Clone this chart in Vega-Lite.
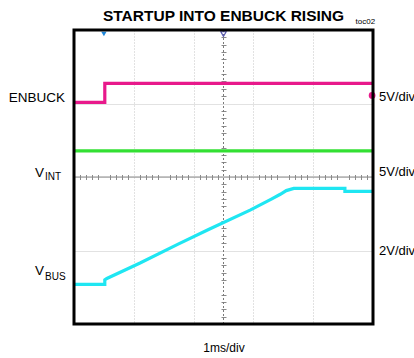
{
  "$schema": "https://vega.github.io/schema/vega-lite/v6.json",
  "width": 299,
  "height": 294,
  "autosize": {"type": "none"},
  "padding": {"left": 74, "top": 30, "right": 41, "bottom": 34},
  "background": "white",
  "config": {
    "view": {"stroke": null},
    "font": "Liberation Sans",
    "text": {"font": "Liberation Sans", "color": "black"}
  },
  "title": {
    "text": "STARTUP INTO ENBUCK RISING",
    "font": "Liberation Sans",
    "fontSize": 15.5,
    "fontWeight": "bold",
    "color": "black",
    "anchor": "middle",
    "offset": 6,
    "dy": 13
  },
  "datasets": {
    "traces": [
      {"trace": "ENBUCK", "i": 0, "t": 0, "v": 6.03},
      {"trace": "ENBUCK", "i": 1, "t": 1.03, "v": 6.03},
      {"trace": "ENBUCK", "i": 2, "t": 1.03, "v": 6.55},
      {"trace": "ENBUCK", "i": 3, "t": 10, "v": 6.55},
      {"trace": "VINT", "i": 0, "t": 0, "v": 4.71},
      {"trace": "VINT", "i": 1, "t": 10, "v": 4.71},
      {"trace": "VBUS", "i": 0, "t": 0, "v": 1.08},
      {"trace": "VBUS", "i": 1, "t": 1.03, "v": 1.08},
      {"trace": "VBUS", "i": 2, "t": 1.03, "v": 1.2},
      {"trace": "VBUS", "i": 3, "t": 1.1, "v": 1.24},
      {"trace": "VBUS", "i": 4, "t": 2.21, "v": 1.66},
      {"trace": "VBUS", "i": 5, "t": 3.5, "v": 2.18},
      {"trace": "VBUS", "i": 6, "t": 4.5, "v": 2.57},
      {"trace": "VBUS", "i": 7, "t": 5.89, "v": 3.1},
      {"trace": "VBUS", "i": 8, "t": 6.6, "v": 3.4},
      {"trace": "VBUS", "i": 9, "t": 6.9, "v": 3.53},
      {"trace": "VBUS", "i": 10, "t": 7.1, "v": 3.63},
      {"trace": "VBUS", "i": 11, "t": 7.35, "v": 3.69},
      {"trace": "VBUS", "i": 12, "t": 9.06, "v": 3.69},
      {"trace": "VBUS", "i": 13, "t": 9.06, "v": 3.61},
      {"trace": "VBUS", "i": 14, "t": 10, "v": 3.61}
    ],
    "centre": [{"t": 5, "v": 4}],
    "frame": [{"t0": 0, "t1": 10, "v0": 0, "v1": 8}]
  },
  "resolve": {"axis": {"x": "independent", "y": "independent"}},
  "layer": [
    {
      "layer": [
        {
          "data": {"name": "centre"},
          "mark": {"type": "rule", "color": "#8a8a8a", "strokeWidth": 1},
          "encoding": {
            "y": {"field": "v", "type": "quantitative", "scale": {"domain": [0, 8], "nice": false, "zero": false},
              "axis": {"orient": "left", "values": [0, 1, 2, 3, 4, 5, 6, 7, 8], "grid": true, "gridColor": "#c4c4c4", "gridDash": [1, 1], "gridWidth": 1, "labels": false, "ticks": false, "domain": false, "title": null}}
          }
        },
        {
          "data": {"name": "centre"},
          "mark": {"type": "rule", "color": "#7a7a7a", "strokeWidth": 1, "strokeDash": [2, 2]},
          "encoding": {
            "x": {"field": "t", "type": "quantitative", "scale": {"domain": [0, 10], "nice": false, "zero": false},
              "axis": {"orient": "bottom", "values": [0, 1, 2, 3, 4, 5, 6, 7, 8, 9, 10], "grid": true, "gridColor": "#c4c4c4", "gridDash": [1, 2], "gridWidth": 1, "labels": false, "ticks": false, "domain": false,
                "title": "1ms/div", "titleFont": "Liberation Sans", "titleFontSize": 12, "titleFontWeight": "normal", "titleColor": "black", "titlePadding": 18}}
          }
        },
        {
          "data": {"name": "traces"},
          "mark": {"type": "line", "strokeWidth": 3.2, "strokeCap": "butt", "strokeJoin": "miter"},
          "encoding": {
            "x": {"field": "t", "type": "quantitative"},
            "y": {"field": "v", "type": "quantitative"},
            "order": {"field": "i", "type": "quantitative"},
            "color": {"field": "trace", "type": "nominal", "legend": null,
              "scale": {"domain": ["ENBUCK", "VINT", "VBUS"], "range": ["#e8198b", "#33e033", "#1fe6f2"]}}
          }
        },
        {
          "data": {"values": [{"t": 9.97, "v": 6.22}]},
          "mark": {"type": "point", "shape": "circle", "filled": true, "size": 45, "color": "#e8198b", "opacity": 1},
          "encoding": {
            "x": {"field": "t", "type": "quantitative"},
            "y": {"field": "v", "type": "quantitative"}
          }
        },
        {
          "data": {"values": [{"t": 1.0, "v": 7.89}]},
          "mark": {"type": "point", "shape": "triangle-down", "filled": true, "size": 28, "color": "#1e86d8", "opacity": 1},
          "encoding": {
            "x": {"field": "t", "type": "quantitative"},
            "y": {"field": "v", "type": "quantitative"}
          }
        },
        {
          "data": {"values": [{"t": 5.0, "v": 7.89}]},
          "mark": {"type": "point", "shape": "triangle-down", "filled": false, "size": 28, "stroke": "#5a5ab0", "strokeWidth": 1.2, "opacity": 1},
          "encoding": {
            "x": {"field": "t", "type": "quantitative"},
            "y": {"field": "v", "type": "quantitative"}
          }
        },
        {
          "data": {"values": [
            {"txt": "ENBUCK", "t": -0.3, "v": 6.15},
            {"txt": "V", "t": -1.0, "v": 4.12},
            {"txt": "V", "t": -1.0, "v": 1.43}
          ]},
          "mark": {"type": "text", "align": "right", "baseline": "middle", "fontSize": 13.5, "clip": false},
          "encoding": {
            "x": {"field": "t", "type": "quantitative"},
            "y": {"field": "v", "type": "quantitative"},
            "text": {"field": "txt"}
          }
        },
        {
          "data": {"values": [
            {"txt": "INT", "t": -0.97, "v": 4.0},
            {"txt": "BUS", "t": -0.97, "v": 1.29}
          ]},
          "mark": {"type": "text", "align": "left", "baseline": "middle", "fontSize": 10, "clip": false},
          "encoding": {
            "x": {"field": "t", "type": "quantitative"},
            "y": {"field": "v", "type": "quantitative"},
            "text": {"field": "txt"}
          }
        },
        {
          "data": {"values": [
            {"txt": "5V/div", "t": 10.2, "v": 6.18},
            {"txt": "5V/div", "t": 10.2, "v": 4.14},
            {"txt": "2V/div", "t": 10.2, "v": 1.99}
          ]},
          "mark": {"type": "text", "align": "left", "baseline": "middle", "fontSize": 13, "clip": false},
          "encoding": {
            "x": {"field": "t", "type": "quantitative"},
            "y": {"field": "v", "type": "quantitative"},
            "text": {"field": "txt"}
          }
        },
        {
          "data": {"values": [{"txt": "toc02", "t": 10.07, "v": 8.22}]},
          "mark": {"type": "text", "align": "right", "baseline": "middle", "fontSize": 8, "clip": false},
          "encoding": {
            "x": {"field": "t", "type": "quantitative"},
            "y": {"field": "v", "type": "quantitative"},
            "text": {"field": "txt"}
          }
        },
        {
          "data": {"name": "frame"},
          "mark": {"type": "rect", "fill": null, "fillOpacity": 0, "stroke": "black", "strokeWidth": 3},
          "encoding": {
            "x": {"field": "t0", "type": "quantitative"},
            "x2": {"field": "t1"},
            "y": {"field": "v0", "type": "quantitative"},
            "y2": {"field": "v1"}
          }
        }
      ]
    },
    {
      "data": {"name": "centre"},
      "mark": {"type": "point", "opacity": 0},
      "encoding": {
        "x": {"field": "t", "type": "quantitative",
          "axis": {"orient": "bottom", "offset": -149.5, "domain": false, "labels": false, "grid": false, "ticks": true, "tickSize": 5, "tickColor": "#8a8a8a", "tickWidth": 1, "title": null,
            "values": [0.2, 0.4, 0.6, 0.8, 1.2, 1.4, 1.6, 1.8, 2.2, 2.4, 2.6, 2.8, 3.2, 3.4, 3.6, 3.8, 4.2, 4.4, 4.6, 4.8, 5.2, 5.4, 5.6, 5.8, 6.2, 6.4, 6.6, 6.8, 7.2, 7.4, 7.6, 7.8, 8.2, 8.4, 8.6, 8.8, 9.2, 9.4, 9.6, 9.8]}},
        "y": {"field": "v", "type": "quantitative",
          "axis": {"orient": "left", "offset": -152, "domain": false, "labels": false, "grid": false, "ticks": true, "tickSize": 5, "tickColor": "#8a8a8a", "tickWidth": 1, "title": null,
            "values": [0.2, 0.4, 0.6, 0.8, 1.2, 1.4, 1.6, 1.8, 2.2, 2.4, 2.6, 2.8, 3.2, 3.4, 3.6, 3.8, 4.2, 4.4, 4.6, 4.8, 5.2, 5.4, 5.6, 5.8, 6.2, 6.4, 6.6, 6.8, 7.2, 7.4, 7.6, 7.8]}}
      }
    }
  ]
}
